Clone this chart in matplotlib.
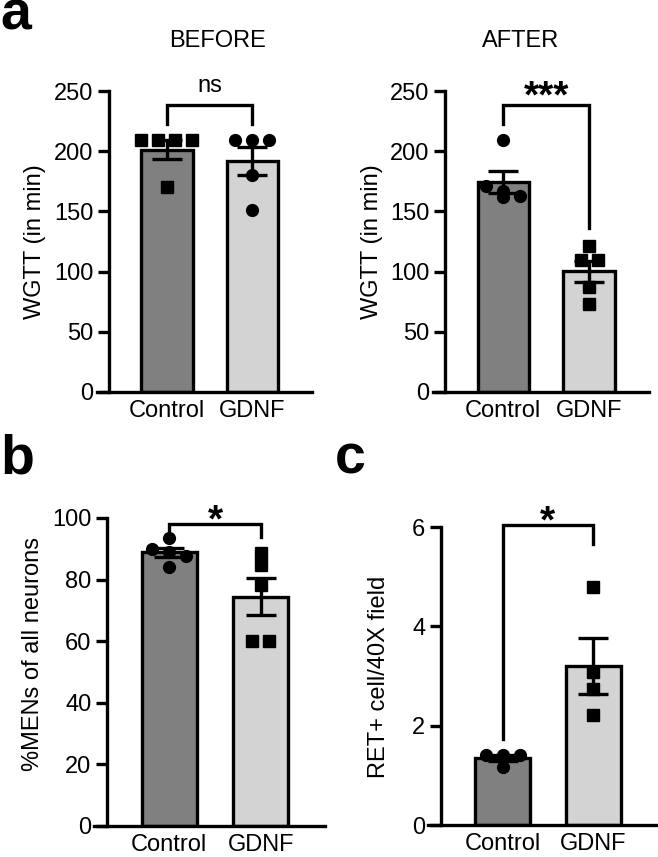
import numpy as np
import matplotlib
matplotlib.use('Agg')
import matplotlib.pyplot as plt

plt.rcParams['font.family'] = ['Liberation Sans', 'DejaVu Sans']

groups = ['Control', 'GDNF']

# a: WGTT (min), before and after treatment
before_ctrl = [209, 209, 209, 209, 170]
before_gdnf = [209, 209, 209, 180, 151]
after_ctrl = [209, 171, 167, 163, 162]
after_gdnf = [121, 110, 110, 87, 73]
wgtt_ticks = [0, 50, 100, 150, 200, 250]

# b: %MENs of all neurons
mens_ctrl = [93.5, 90.0, 88.8, 87.7, 84.0]
mens_gdnf = [88.6, 84.8, 78.3, 60.2, 60.2]
mens_ticks = [0, 20, 40, 60, 80, 100]

# c: RET+ cells per 40X field
ret_ctrl = [1.41, 1.41, 1.41, 1.17]
ret_gdnf = [4.79, 3.08, 2.73, 2.21]
ret_ticks = [0, 2, 4, 6]

W, H = 658, 857
DARK = '#808080'
LIGHT = '#d3d3d3'
LW = 2.4
XMIN, XMAX, YSPINE = -0.82, 1.70, -0.68
FS = 17

fig = plt.figure(figsize=(W / 100, H / 100), dpi=100)


def fx(x):
    return x / W


def fy(y):
    return 1 - y / H


def spread(vals, ax, step_px=17, row_px=10.5):
    # graphpad style scatter: near-equal values sit side by side
    bb = ax.get_position()
    ux = bb.width * W / (XMAX - XMIN)
    lo, hi = ax.get_ylim()
    uy = bb.height * H / (hi - lo)
    order = np.argsort(vals)[::-1]
    offs = np.zeros(len(vals))
    rows, row = [], []
    for i in order:
        if row and abs(vals[row[0]] - vals[i]) * uy >= row_px:
            rows.append(row)
            row = []
        row.append(i)
    rows.append(row)
    for row in rows:
        n = len(row)
        for k, i in enumerate(row):
            offs[i] = (k - (n - 1) / 2) * step_px / ux
    return offs


def panel(box, ctrl, gdnf, markers, ticks):
    x0, x1, ytop, ybot = box
    ax = fig.add_axes([fx(x0), fy(ybot), (x1 - x0) / W, (ybot - ytop) / H])
    ax.set_xlim(XMIN, XMAX)
    ax.set_ylim(0, ticks[-1])
    data = [np.array(ctrl, dtype=float), np.array(gdnf, dtype=float)]
    means = [d.mean() for d in data]
    sems = [d.std(ddof=1) / np.sqrt(len(d)) for d in data]
    ax.bar([0, 1], means, width=0.6, color=[DARK, LIGHT], edgecolor='black',
           linewidth=LW, zorder=1)
    for i, d in enumerate(data):
        ax.plot(i + spread(d, ax), d, linestyle='none', marker=markers[i],
                ms=8.5, color='black', clip_on=False, zorder=3)
    ax.errorbar([0, 1], means, yerr=sems, fmt='none', ecolor='black',
                elinewidth=LW, capsize=11, capthick=LW, zorder=2)
    ax.spines[['top', 'right']].set_visible(False)
    ax.spines['left'].set_position(('data', YSPINE))
    ax.spines['left'].set_linewidth(LW)
    ax.spines['bottom'].set_linewidth(LW)
    ax.set_yticks(ticks)
    ax.set_xticks([0, 1], groups)
    ax.tick_params(axis='y', length=8, width=LW, pad=3, labelsize=FS)
    ax.tick_params(axis='x', length=0, pad=6, labelsize=FS)
    ax.set_facecolor('none')
    return ax


def bracket(ax, left_y, right_y, top_y, label, label_y, size, weight='normal'):
    ax.plot([0, 0, 1, 1], [left_y, top_y, top_y, right_y], color='black',
            lw=LW, clip_on=False, solid_joinstyle='miter')
    ax.text(0.5, label_y, label, ha='center', va='baseline', fontsize=size,
            fontweight=weight)


# panel a
ax1 = panel((97, 312, 91, 392), before_ctrl, before_gdnf, ['s', 'o'], wgtt_ticks)
bracket(ax1, 223, 223, 238, 'ns', 249, FS)
ax2 = panel((433, 649, 91, 392), after_ctrl, after_gdnf, ['o', 's'], wgtt_ticks)
bracket(ax2, 223, 136, 238, '***', 236, 28, 'bold')

# panel b
ax3 = panel((94, 325, 518, 826), mens_ctrl, mens_gdnf, ['o', 's'], mens_ticks)
bracket(ax3, 95.6, 93.8, 98, '*', 95.5, 28, 'bold')

# panel c
ax4 = panel((428, 657, 527, 825), ret_ctrl, ret_gdnf, ['o', 's'], ret_ticks)
bracket(ax4, 1.74, 5.65, 6.05, '*', 5.88, 28, 'bold')

# titles, y labels and panel letters
fig.text(fx(218), fy(47), 'BEFORE', ha='center', va='baseline', fontsize=FS)
fig.text(fx(521), fy(47), 'AFTER', ha='center', va='baseline', fontsize=FS)

fig.text(fx(35), fy(242), 'WGTT (in min)', rotation=90, ha='center', va='center', fontsize=FS)
fig.text(fx(372), fy(242), 'WGTT (in min)', rotation=90, ha='center', va='center', fontsize=FS)
fig.text(fx(33), fy(654), '%MENs of all neurons', rotation=90, ha='center', va='center', fontsize=FS)
fig.text(fx(379), fy(677), 'RET+ cell/40X field', rotation=90, ha='center', va='center', fontsize=FS)

fig.text(fx(0), fy(30), 'a', ha='left', va='baseline', fontsize=40, fontweight='bold')
fig.text(fx(0), fy(473), 'b', ha='left', va='baseline', fontsize=40, fontweight='bold')
fig.text(fx(335), fy(473), 'c', ha='left', va='baseline', fontsize=40, fontweight='bold')

fig.savefig('out.png', dpi=100)
